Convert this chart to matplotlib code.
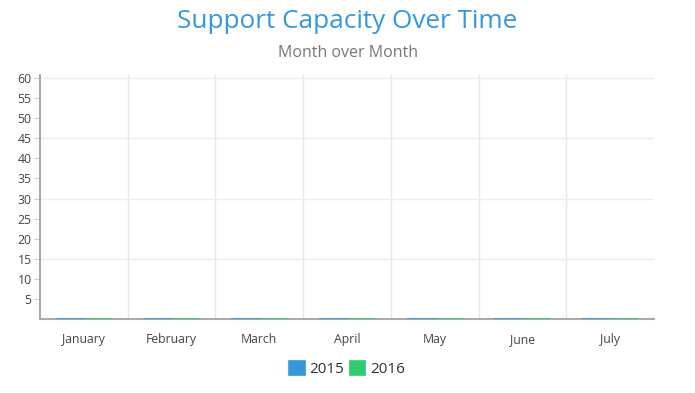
import numpy as np
import matplotlib.pyplot as plt

months = ["January", "February", "March", "April", "May", "June", "July"]
years = ["2015", "2016"]
cap_2015 = [0, 0, 0, 0, 0, 0, 0]
cap_2016 = [0, 0, 0, 0, 0, 0, 0]
colors = ["#3498db", "#2ecc71"]

plt.rcParams['font.family'] = ['Open Sans', 'DejaVu Sans']

fig = plt.figure(figsize=(6.95, 3.93), dpi=100)
ax = fig.add_axes([40 / 695, 1 - 319 / 393, 614 / 695, 244 / 393])

x = np.arange(len(months))
w = 0.32
for i, vals in enumerate([cap_2015, cap_2016]):
    ax.bar(x + (i - 0.5) * w, vals, width=w, color=colors[i],
           edgecolor=colors[i], linewidth=1.2, label=years[i], zorder=3)

ax.set_xlim(-0.5, len(months) - 0.5)
ax.set_ylim(0, 60.75)

# grid: vertical lines on category boundaries, horizontal every 15
for b in np.arange(0.5, len(months) - 0.5, 1):
    ax.axvline(b, color="#e8e8e8", lw=1, zorder=0)
for g in [15, 30, 45, 60]:
    ax.axhline(g, color="#eeeeee", lw=1, zorder=0)

ax.set_yticks(np.arange(5, 61, 5))
ax.set_yticklabels([str(v) for v in range(5, 61, 5)])
ax.set_xticks(x)
ax.set_xticklabels(months)
ax.tick_params(axis='y', length=4, color="#cccccc", labelsize=8.8,
               labelcolor="#444444", pad=2)
ax.tick_params(axis='x', length=0, labelsize=8.8, labelcolor="#444444", pad=10)

for s in ["top", "right"]:
    ax.spines[s].set_visible(False)
ax.spines["left"].set_color("#999999")
ax.spines["left"].set_linewidth(1.2)
ax.spines["bottom"].set_color("#aaaaaa")
ax.spines["bottom"].set_linewidth(1.5)

fig.text(0.5, 1 - 21 / 393, "Support Capacity Over Time", ha="center",
         va="center", fontsize=18.8, color="#3498db")
fig.text(0.5, 1 - 53 / 393, "Month over Month", ha="center", va="center",
         fontsize=11.5, color="#777777")

leg = ax.legend(loc="center", bbox_to_anchor=(0.5, (1 - 369 / 393 - (1 - 319 / 393)) / (244 / 393)),
                ncol=2, frameon=False, fontsize=11, handlelength=1.0,
                handleheight=1.0, handletextpad=0.3, columnspacing=0.4,
                labelcolor="#333333")

fig.savefig("out.png", dpi=100, facecolor="white")
